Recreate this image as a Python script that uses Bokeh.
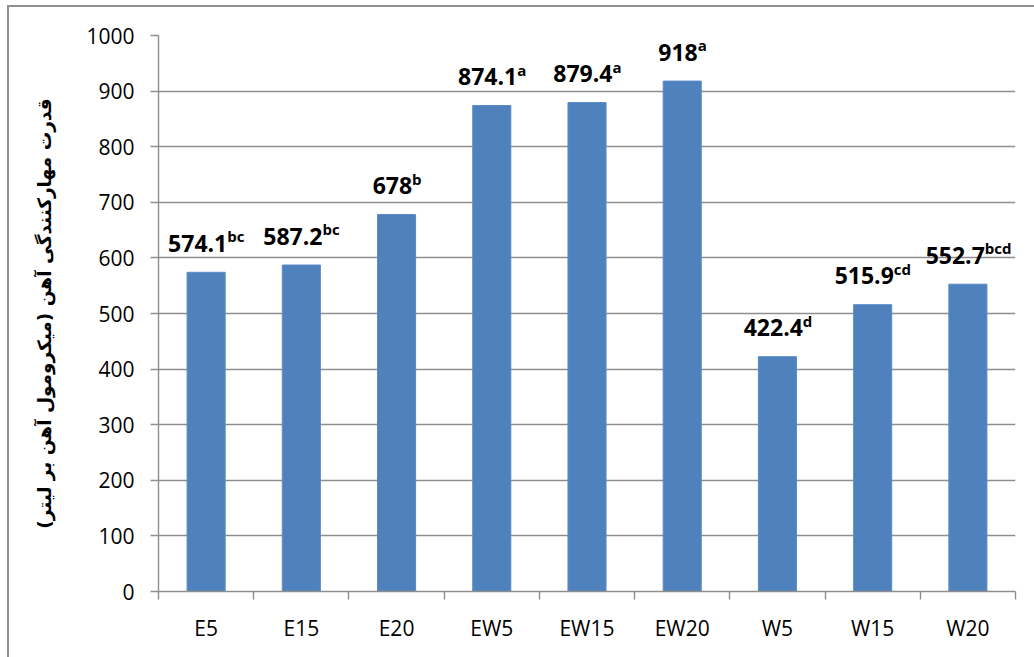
import numpy as np
from bokeh.plotting import figure
from bokeh.models import FixedTicker, ColumnDataSource, Range1d
from bokeh.core.properties import value
from bokeh.embed import file_html
from bokeh.resources import INLINE

categories = ["E5", "E15", "E20", "EW5", "EW15", "EW20", "W5", "W15", "W20"]
values = [574.1, 587.2, 678, 874.1, 879.4, 918, 422.4, 515.9, 552.7]
value_labels = ["574.1", "587.2", "678", "874.1", "879.4", "918", "422.4", "515.9", "552.7"]
letters = ["bc", "bc", "b", "a", "a", "a", "d", "cd", "bcd"]
y_ticks = list(range(0, 1001, 100))
y_title = "قدرت مهارکنندگی آهن (میکرومول آهن بر لیتر)"

xs = np.arange(len(categories)) + 0.5

# approximate text widths (px) to centre number+superscript as one label
def w_main(s):
    return sum(6.5 if c == "." else 13.2 for c in s)

def w_sup(s):
    return 8.5 * len(s)

offs = [(w_main(m) - w_sup(s)) / 2 for m, s in zip(value_labels, letters)]

src = ColumnDataSource(dict(x=xs, top=values, main=value_labels, sup=letters, off=offs))

p = figure(width=1027, height=652, output_backend="svg", toolbar_location=None,
           x_range=Range1d(0, len(categories)), y_range=Range1d(0, 1000),
           min_border_left=149, min_border_right=21, min_border_top=28, min_border_bottom=68,
           margin=(5, 0, 0, 7))
p.styles = {"border-left": "2px solid #8f8f8f", "border-top": "2px solid #8f8f8f"}
p.outline_line_color = None
p.background_fill_color = "white"
p.border_fill_color = "white"

p.vbar(x="x", top="top", width=0.4, source=src, fill_color="#4F81BD", line_color="#5B8CC6", line_width=1)

p.text(x="x", y="top", text="main", source=src, text_align="right", text_baseline="alphabetic",
       x_offset="off", y_offset=-29, text_font=value("Open Sans"), text_font_style="bold",
       text_font_size="23px", text_color="black")
p.text(x="x", y="top", text="sup", source=src, text_align="left", text_baseline="alphabetic",
       x_offset="off", y_offset=-36, text_font=value("Open Sans"), text_font_style="bold",
       text_font_size="15px", text_color="black")

# axes
p.xgrid.grid_line_color = None
p.ygrid.grid_line_color = "#8e8e8e"
p.ygrid.grid_line_width = 1.4
p.yaxis.ticker = FixedTicker(ticks=y_ticks)
p.xaxis.ticker = FixedTicker(ticks=list(xs), minor_ticks=list(range(len(categories) + 1)))
p.xaxis.major_label_overrides = {float(x): c for x, c in zip(xs, categories)}

for ax in (p.xaxis[0], p.yaxis[0]):
    ax.axis_line_color = "#8e8e8e"
    ax.axis_line_width = 1.4
    ax.major_label_text_font = "Open Sans"
    ax.major_label_text_font_size = "21px"
    ax.major_label_text_color = "black"
    ax.major_label_standoff = 16

p.yaxis.major_tick_out = 8
p.yaxis.major_tick_in = 0
p.yaxis.major_tick_line_color = "#8e8e8e"
p.yaxis.major_tick_line_width = 1.4
p.yaxis.minor_tick_line_color = None

p.xaxis.major_tick_line_color = None
p.xaxis.minor_tick_out = 8
p.xaxis.minor_tick_in = 0
p.xaxis.minor_tick_line_color = "#8e8e8e"
p.xaxis.minor_tick_line_width = 1.4
p.xaxis.major_label_standoff = 14

p.yaxis.axis_label = y_title + "\u200f"
p.yaxis.axis_label_text_font = "DejaVu Sans"
p.yaxis.axis_label_text_font_style = "bold"
p.yaxis.axis_label_text_font_size = "18.5px"
p.yaxis.axis_label_text_color = "black"
p.yaxis.axis_label_standoff = 28

open("out.html", "w").write(file_html(p, INLINE))
